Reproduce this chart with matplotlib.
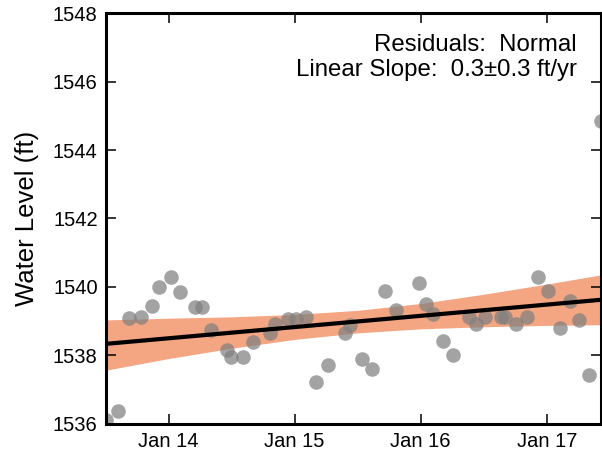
import matplotlib
matplotlib.use("Agg")
import matplotlib.pyplot as plt
import pandas as pd

plt.rcParams['font.family'] = ['Liberation Sans', 'DejaVu Sans']

# ---- data ----
obs_dates = ["2013-07-05", "2013-08-07", "2013-09-09", "2013-10-14", "2013-11-13",
             "2013-12-05", "2014-01-08", "2014-02-03", "2014-03-18", "2014-04-07",
             "2014-05-04", "2014-06-19", "2014-07-02", "2014-08-05", "2014-09-02",
             "2014-10-22", "2014-11-05", "2014-12-13", "2015-01-05", "2015-02-03",
             "2015-03-04", "2015-04-09", "2015-05-26", "2015-06-10", "2015-07-16",
             "2015-08-12", "2015-09-20", "2015-10-22", "2015-12-27", "2016-01-16",
             "2016-02-05", "2016-03-06", "2016-04-03", "2016-05-20", "2016-06-09",
             "2016-07-05", "2016-08-22", "2016-08-31", "2016-10-04", "2016-11-03",
             "2016-12-06", "2017-01-05", "2017-02-07", "2017-03-07", "2017-04-04",
             "2017-05-02", "2017-06-07"]
obs_levels = [1536.10, 1536.38, 1539.08, 1539.11, 1539.44,
              1540.00, 1540.29, 1539.86, 1539.42, 1539.41,
              1538.74, 1538.15, 1537.96, 1537.95, 1538.37,
              1538.64, 1538.92, 1539.05, 1539.05, 1539.13,
              1537.21, 1537.71, 1538.64, 1538.88, 1537.88,
              1537.58, 1539.87, 1539.33, 1540.10, 1539.51,
              1539.19, 1538.41, 1538.00, 1539.11, 1538.90,
              1539.11, 1539.11, 1539.11, 1538.90, 1539.11,
              1540.30, 1539.88, 1538.79, 1539.57, 1539.04,
              1537.42, 1544.84]

trend_dates = ["2013-07-04", "2017-06-07"]
trend_levels = [1538.33, 1539.62]

band_dates = ["2013-07-04", "2014-01-01", "2014-07-02", "2015-01-01", "2015-07-02",
              "2016-01-01", "2016-07-01", "2017-01-01", "2017-06-07"]
band_lower = [1537.56, 1537.90, 1538.20, 1538.46, 1538.65,
              1538.77, 1538.83, 1538.87, 1538.89]
band_upper = [1539.03, 1539.08, 1539.12, 1539.19, 1539.31,
              1539.51, 1539.78, 1540.08, 1540.35]

xtick_dates = ["2014-01-01", "2015-01-01", "2016-01-01", "2017-01-01"]
xtick_labels = ["Jan 14", "Jan 15", "Jan 16", "Jan 17"]
ytick_values = [1536, 1538, 1540, 1542, 1544, 1546, 1548]

annot_lines = ["Residuals:  Normal", "Linear Slope:  0.3\u00b10.3 ft/yr"]

# ---- figure ----
fig = plt.figure(figsize=(6.02, 4.57), dpi=100)
ax = fig.add_axes([0.1761, 0.0733, 0.8227, 0.8976])

ax.fill_between(pd.to_datetime(band_dates), band_lower, band_upper,
                color='#f4a582', linewidth=0, zorder=1)
ax.scatter(pd.to_datetime(obs_dates), obs_levels, s=110, color='#808080',
           alpha=0.72, linewidths=0, zorder=2)
ax.plot(pd.to_datetime(trend_dates), trend_levels, color='black', lw=3, zorder=3,
        solid_capstyle='butt')

ax.set_xlim(pd.to_datetime(trend_dates[0]), pd.to_datetime(trend_dates[-1]))
ax.set_ylim(ytick_values[0], ytick_values[-1])
ax.set_xticks(pd.to_datetime(xtick_dates))
ax.set_xticklabels(xtick_labels)
ax.set_yticks(ytick_values)
ax.set_yticklabels([str(v) for v in ytick_values])

ax.tick_params(direction='in', length=7.5, width=1.1, top=True, right=True,
               labelsize=14.5, pad=6)
for sp in ax.spines.values():
    sp.set_linewidth(2.2)

ax.set_ylabel("Water Level (ft)", fontsize=18.5, labelpad=10)

ax.text(0.950, 0.909, annot_lines[0], transform=ax.transAxes, ha='right',
        va='baseline', fontsize=17.3)
ax.text(0.950, 0.847, annot_lines[1], transform=ax.transAxes, ha='right',
        va='baseline', fontsize=17.3)

fig.savefig("out.png", dpi=100)
